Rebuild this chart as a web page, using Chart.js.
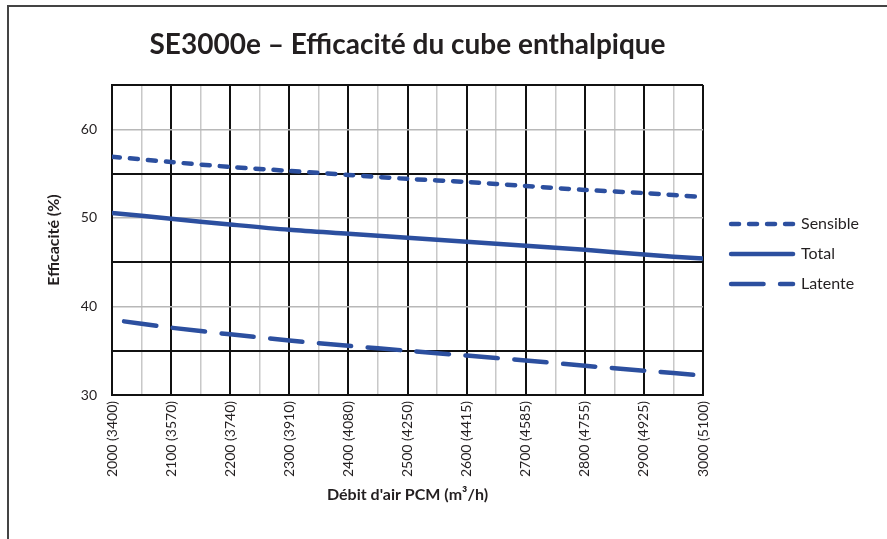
<!DOCTYPE html>
<html lang="fr">
<head>
  <meta charset="UTF-8">
  <title>SE3000e – Efficacité du cube enthalpique</title>
  <script src="https://cdn.jsdelivr.net/npm/chart.js"></script>
  <style>
    html, body { margin: 0; padding: 0; background: #fff; }
    #cadre {
      position: absolute; left: 7px; top: 5px; width: 900px; height: 532px;
      border-left: 2px solid #444; border-top: 2px solid #444; border-bottom: 1px solid #ccc;
    }
    #grafico { position: absolute; left: 0; top: 0; }
  </style>
</head>
<body>
  <div id="cadre"></div>
  <canvas id="grafico" width="887" height="539"></canvas>

  <script>
    const titre = 'SE3000e – Efficacité du cube enthalpique';

    // Débit d'air (PCM) et équivalent en m3/h
    const debitPCM = [2000, 2100, 2200, 2300, 2400, 2500, 2600, 2700, 2800, 2900, 3000];
    const debitM3h = [3400, 3570, 3740, 3910, 4080, 4250, 4415, 4585, 4755, 4925, 5100];

    // Efficacité (%)
    const sensible = [56.9, 56.3, 55.75, 55.3, 54.85, 54.4, 54.05, 53.6, 53.15, 52.8, 52.35];
    const total    = [50.55, 49.9, 49.25, 48.65, 48.2, 47.75, 47.3, 46.85, 46.4, 45.85, 45.4];
    const latente  = [38.5, 37.6, 36.85, 36.15, 35.55, 35.0, 34.45, 33.9, 33.3, 32.75, 32.2];

    const bleu = '#2c4f9f';
    const police = 'Lato, "Open Sans", sans-serif';

    const points = serie => serie.map((v, i) => ({ x: debitPCM[i], y: v }));

    // titre centré sur la zone du graphique + petit décalage de la légende
    const titrePlugin = {
      id: 'titre',
      afterLayout(chart) {
        const lg = chart.legend;
        lg.left += 14; lg.right += 14;
        lg.top -= 58; lg.bottom -= 58;
      },
      afterDraw(chart) {
        const { ctx, chartArea } = chart;
        ctx.save();
        ctx.font = 'bold 28px ' + police;
        ctx.fillStyle = '#231f20';
        ctx.textAlign = 'center';
        ctx.textBaseline = 'middle';
        ctx.fillText(titre, (chartArea.left + chartArea.right) / 2, 45);
        ctx.restore();
      }
    };

    const ctx = document.getElementById('grafico').getContext('2d');
    new Chart(ctx, {
      type: 'line',
      data: {
        datasets: [
          {
            label: 'Sensible',
            data: points(sensible),
            borderColor: bleu,
            borderWidth: 4.5,
            borderDash: [8, 10],
            borderCapStyle: 'round',
            pointRadius: 0,
            tension: 0.3
          },
          {
            label: 'Total',
            data: points(total),
            borderColor: bleu,
            borderWidth: 4.5,
            borderCapStyle: 'round',
            pointRadius: 0,
            tension: 0.3
          },
          {
            label: 'Latente',
            data: points(latente),
            borderColor: bleu,
            borderWidth: 4.5,
            borderDash: [32.5, 16.5],
            borderDashOffset: 36.75,
            borderCapStyle: 'round',
            pointRadius: 0,
            tension: 0.3
          }
        ]
      },
      options: {
        responsive: false,
        animation: false,
        layout: { padding: { top: 85, right: 32, bottom: 0, left: 0 } },
        plugins: {
          title: { display: false },
          tooltip: { enabled: false },
          legend: {
            position: 'right',
            labels: {
              usePointStyle: true,
              pointStyle: 'line',
              pointStyleWidth: 62,
              boxHeight: 16,
              padding: 14,
              color: '#231f20',
              font: { family: police, size: 16 },
              generateLabels(chart) {
                const items = Chart.defaults.plugins.legend.labels.generateLabels(chart);
                items.forEach(it => {
                  const ds = chart.data.datasets[it.datasetIndex];
                  it.lineDash = ds.borderDash || [];
                  it.lineDashOffset = 0;
                  it.lineCap = 'round';
                  it.lineWidth = 4.5;
                  it.strokeStyle = bleu;
                  it.fillStyle = bleu;
                });
                return items;
              }
            }
          }
        },
        scales: {
          x: {
            type: 'linear',
            min: 2000,
            max: 3000,
            afterFit(scale) { scale.height = 144; },
            ticks: {
              stepSize: 50,
              autoSkip: false,
              maxRotation: 90,
              minRotation: 90,
              padding: 6,
              color: '#231f20',
              font: { family: police, size: 14 },
              callback(value) {
                const i = debitPCM.indexOf(value);
                return i >= 0 ? debitPCM[i] + ' (' + debitM3h[i] + ')' : '';
              }
            },
            grid: {
              drawTicks: false,
              color: c => (c.tick && c.tick.value % 100 === 0) ? '#111' : '#c8c8c8',
              lineWidth: c => (c.tick && c.tick.value % 100 === 0) ? 2 : 1.5
            },
            border: { display: true, color: '#111', width: 2 },
            title: {
              display: true,
              text: "Débit d'air PCM (m³/h)",
              color: '#231f20',
              font: { family: police, size: 16, weight: 'bold' },
              padding: { top: 0, bottom: 34.5 }
            }
          },
          y: {
            min: 30,
            max: 65,
            afterFit(scale) { scale.width = 112; },
            ticks: {
              stepSize: 5,
              padding: 15,
              color: '#231f20',
              font: { family: police, size: 14 },
              callback: v => (v % 10 === 0 ? v : '')
            },
            grid: {
              drawTicks: false,
              color: c => (c.tick && c.tick.value % 10 === 5) ? '#111' : '#b8b8b8',
              lineWidth: c => (c.tick && c.tick.value % 10 === 5) ? 2 : 1.5
            },
            border: { display: true, color: '#111', width: 2 },
            title: {
              display: true,
              text: 'Efficacité (%)',
              color: '#231f20',
              font: { family: police, size: 16, weight: 'bold' },
              padding: { top: 44, bottom: 0 }
            }
          }
        }
      },
      plugins: [titrePlugin]
    });
  </script>
</body>
</html>
